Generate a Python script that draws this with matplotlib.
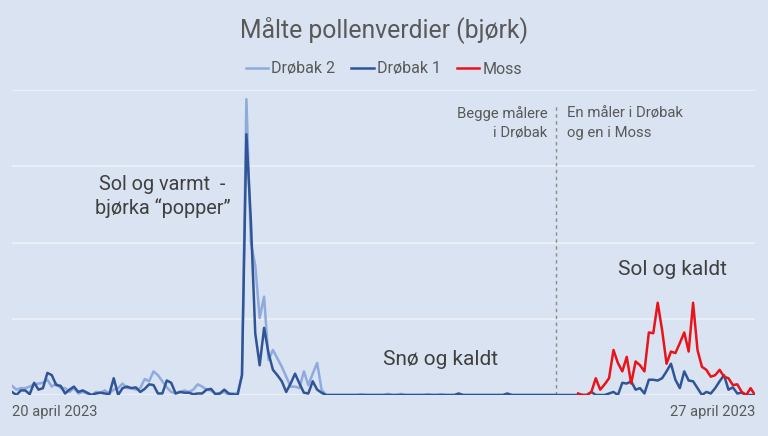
import numpy as np
from matplotlib import pyplot as plt

# hourly readings, 20 april 2023 -> 27 april 2023 (index 0..168)
hours = np.arange(169)

drobak1 = [4, 0, 6, 6, 1, 16, 7, 9, 29, 26, 13, 12, 2, 7, 11, 4, 6, 3, 0, 2,
           3, 2, 1, 22, 0, 9, 11, 9, 10, 4, 8, 14, 13, 2, 2, 19, 16, 2, 4, 3,
           3, 1, 2, 2, 7, 8, 1, 2, 7, 2, 1, 0, 26,
           342, 230, 81, 39, 88, 55, 33, 26, 18, 4, 15, 28, 15, 3, 2, 18, 7, 3, 0] \
    + [0] * 29 + [2] + [0] * 10 + [2] + [0] * 18 \
    + [4, 0, 0, 0, 2, 4, 0, 16, 15, 18, 7, 9, 2, 20, 20, 19, 22, 31, 41, 20,
       9, 31, 19, 18, 9, 0, 4, 2, 9, 18, 26, 7, 10, 2, 3, 0, 0, 0]

drobak2 = [12, 7, 9, 9, 11, 14, 15, 16, 20, 11, 15, 9, 9, 4, 9, 2, 4, 2, 0, 4,
           3, 6, 2, 7, 9, 15, 9, 9, 7, 9, 21, 18, 31, 26, 18, 10, 4, 2, 4, 6,
           4, 7, 14, 11, 7, 6, 2, 2, 4, 0, 2, 2, 26,
           388, 200, 170, 101, 129, 46, 59, 48, 37, 24, 11, 11, 9, 31, 13, 28, 42, 7, 0] \
    + [0] * 7 + [1] + [0] * 5 + [1.5] + [0] * 2 + [1.5] + [0] * 5 + [1] + [0] * 2 + [1] \
    + [0] * 26 + [np.nan] * 45

moss = [np.nan] * 128 + [2, 0, 0, 4, 22, 7, 14, 22, 59, 42, 31, 50, 15, 44, 39, 31,
                         82, 81, 121, 85, 41, 57, 55, 68, 82, 57, 121, 59, 37, 33,
                         24, 26, 33, 24, 22, 13, 14, 4, 0, 9, 0]

split_hour = 123
date_labels = ['20 april 2023', '27 april 2023']

bg = '#dae3f1'
txt = '#595959'

plt.rcParams['font.family'] = ['Roboto', 'DejaVu Sans']

fig = plt.figure(figsize=(7.68, 4.36), dpi=100, facecolor=bg)
ax = fig.add_axes([12 / 768, 1 - 395 / 436, 743 / 768, 305 / 436])
ax.set_facecolor(bg)

ax.plot(hours, drobak2, color='#8faadc', lw=1.8, label='Drøbak 2', zorder=3)
ax.plot(hours, drobak1, color='#2f5597', lw=1.8, label='Drøbak 1', zorder=4)
ax.plot(hours, moss, color='#e8141a', lw=1.8, label='Moss', zorder=5)

ax.axvline(split_hour, ymin=0, ymax=0.95, color='#8c8c8c', lw=1, ls=(0, (2.5, 2.5)), zorder=2)

ax.set_xlim(0, 168)
ax.set_ylim(0, 400)
ax.set_yticks([0, 100, 200, 300, 400])
ax.set_yticklabels([])
ax.grid(axis='y', color='#eef2f9', lw=1.2, zorder=0)
ax.tick_params(length=0)
for s in ax.spines.values():
    s.set_visible(False)

ax.set_xticks([0, 168])
ax.set_xticklabels(date_labels, color=txt, fontsize=10.6)
ax.get_xticklabels()[0].set_ha('left')
ax.get_xticklabels()[1].set_ha('right')
ax.tick_params(axis='x', pad=7)

fig.text(0.5, 1 - 30 / 436, 'Målte pollenverdier (bjørk)', ha='center', va='center',
         fontsize=17.8, color=txt)
fig.legend(loc='center', bbox_to_anchor=(0.5, 1 - 69 / 436), ncol=3, frameon=False,
           fontsize=11.5, labelcolor=txt, handlelength=1.4, handletextpad=0.2,
           columnspacing=1.0)

ax.text(34, 260, 'Sol og varmt  -\nbjørka “popper”', ha='center', va='center',
        fontsize=14.3, color='#404040', linespacing=1.25)
ax.text(97, 47, 'Snø og kaldt', ha='center', va='center', fontsize=15, color='#404040')
ax.text(149.3, 164, 'Sol og kaldt', ha='center', va='center', fontsize=15, color='#404040')
ax.text(121, 379, 'Begge målere\ni Drøbak', ha='right', va='top', fontsize=10.7,
        color=txt, linespacing=1.5)
ax.text(125.5, 379, 'En måler i Drøbak\nog en i Moss', ha='left', va='top', fontsize=10.7,
        color=txt, linespacing=1.5)

fig.savefig('out.png', dpi=100, facecolor=bg)
